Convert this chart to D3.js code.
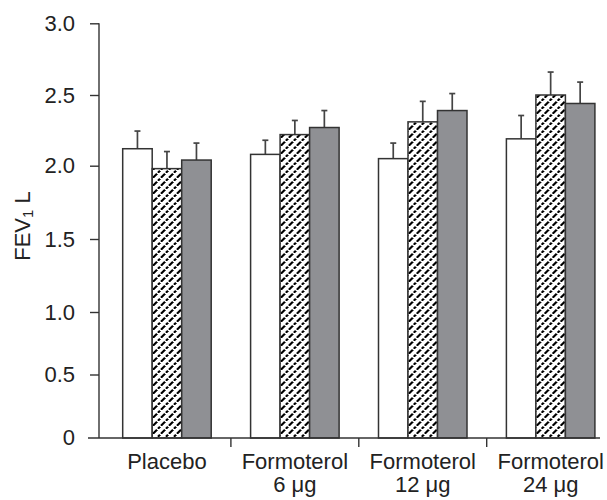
<!DOCTYPE html>
<html>
<head>
<meta charset="utf-8">
<script src="https://cdn.jsdelivr.net/npm/d3@7/dist/d3.min.js"></script>
<style>
  html, body { margin: 0; padding: 0; background: #fff; }
  svg { display: block; }
  text { font-family: "Liberation Sans", Arial, Helvetica, sans-serif; fill: #222; }
</style>
</head>
<body>
<svg id="chart" width="607" height="500"></svg>
<script>
// ---- data ----
const categories = ["Placebo", "Formoterol\n6 μg", "Formoterol\n12 μg", "Formoterol\n24 μg"];
const seriesNames = ["open", "hatched", "filled"];
const valuesOpen    = [2.12, 2.08, 2.05, 2.19];
const valuesHatched = [1.98, 2.22, 2.31, 2.50];
const valuesFilled  = [2.04, 2.27, 2.39, 2.44];
const errOpen       = [0.125, 0.10, 0.11, 0.165];
const errHatched    = [0.12, 0.10, 0.145, 0.16];
const errFilled     = [0.12, 0.12, 0.12, 0.15];
const yTicks = [0, 0.5, 1.0, 1.5, 2.0, 2.5, 3.0];
const yTickLabels = ["0", "0.5", "1.0", "1.5", "2.0", "2.5", "3.0"];

const seriesValues = [valuesOpen, valuesHatched, valuesFilled];
const seriesErrors = [errOpen, errHatched, errFilled];

const svg = d3.select("#chart");

// hatch pattern
const defs = svg.append("defs");
const pat = defs.append("pattern")
  .attr("id", "hatch")
  .attr("patternUnits", "userSpaceOnUse")
  .attr("width", 8).attr("height", 8);
pat.append("rect").attr("width", 8).attr("height", 8).attr("fill", "#fff");
pat.append("path")
  .attr("d", "M-2,2 L2,-2 M0,8 L8,0 M6,10 L10,6")
  .attr("stroke", "#000").attr("stroke-width", 2.3)
  .attr("stroke-dasharray", "3,1.4")
  .attr("shape-rendering", "crispEdges");

const fills = ["#ffffff", "url(#hatch)", "#8f9094"];

// scales (the original axis is drawn slightly unevenly; follow the picture)
const y = d3.scaleLinear()
  .domain(yTicks)
  .range([438, 374.5, 312, 239, 165.7, 95, 23.3]);

const x0 = d3.scaleBand()
  .domain(d3.range(categories.length))
  .range([103, 614.6])
  .paddingInner(0.308)
  .paddingOuter(0.154);

const x1 = d3.scaleBand()
  .domain(d3.range(seriesNames.length))
  .range([0, x0.bandwidth()]);

const axisColor = "#333";
const fs = 22;

// y axis
const yAxis = d3.axisLeft(y)
  .tickValues(yTicks.slice(1))
  .tickFormat((d, i) => yTickLabels[i + 1])
  .tickSize(9)
  .tickPadding(15);
const gy = svg.append("g").attr("transform", "translate(99,0)").call(yAxis);
gy.select(".domain").remove();
gy.selectAll(".tick line").attr("stroke", axisColor).attr("stroke-width", 1.4);
gy.selectAll(".tick text").attr("font-size", fs).attr("fill", "#222")
  .attr("font-family", null);
svg.append("line")
  .attr("x1", 99).attr("x2", 99)
  .attr("y1", y(3.0)).attr("y2", y(0))
  .attr("stroke", axisColor).attr("stroke-width", 1.4);
svg.append("text")
  .attr("x", 75).attr("y", y(0))
  .attr("dy", "0.32em")
  .attr("text-anchor", "end")
  .attr("font-size", fs)
  .text(yTickLabels[0]);

// y label
const yl = svg.append("text")
  .attr("transform", "translate(30,226) rotate(-90)")
  .attr("text-anchor", "middle")
  .attr("font-size", fs);
yl.append("tspan").text("FEV");
yl.append("tspan").attr("font-size", 15).attr("dy", 3).text("1");
yl.append("tspan").attr("dy", -3).text("  L");

// bars
const groups = svg.append("g").selectAll("g")
  .data(categories)
  .join("g")
  .attr("transform", (d, i) => `translate(${x0(i)},0)`);

groups.each(function(cat, gi) {
  const g = d3.select(this);
  seriesNames.forEach((s, si) => {
    const v = seriesValues[si][gi];
    const e = seriesErrors[si][gi];
    const bx = x1(si);
    const cx = bx + x1.bandwidth() / 2;
    // error bar
    g.append("line")
      .attr("x1", cx).attr("x2", cx)
      .attr("y1", y(v)).attr("y2", y(v + e))
      .attr("stroke", "#444").attr("stroke-width", 1.7);
    g.append("line")
      .attr("x1", cx - 3).attr("x2", cx + 3)
      .attr("y1", y(v + e)).attr("y2", y(v + e))
      .attr("stroke", "#444").attr("stroke-width", 1.7);
    g.append("rect")
      .attr("x", bx).attr("width", x1.bandwidth())
      .attr("y", y(v)).attr("height", y(0) - y(v))
      .attr("fill", fills[si])
      .attr("stroke", "#333").attr("stroke-width", 1.5);
  });
});

// x axis
svg.append("line")
  .attr("x1", 88).attr("x2", 600)
  .attr("y1", y(0)).attr("y2", y(0))
  .attr("stroke", axisColor).attr("stroke-width", 1.4);

const step = x0.step();
d3.range(1, categories.length).forEach(i => {
  const sx = x0(i) - (step - x0.bandwidth()) / 2;
  svg.append("line")
    .attr("x1", sx).attr("x2", sx)
    .attr("y1", y(0)).attr("y2", y(0) + 9)
    .attr("stroke", axisColor).attr("stroke-width", 1.4);
});

categories.forEach((c, i) => {
  const cx = x0(i) + x0.bandwidth() / 2;
  const t = svg.append("text")
    .attr("text-anchor", "middle")
    .attr("font-size", fs);
  c.split("\n").forEach((line, li) => {
    t.append("tspan")
      .attr("x", cx)
      .attr("y", 469 + li * 23)
      .text(line);
  });
});
</script>
</body>
</html>
